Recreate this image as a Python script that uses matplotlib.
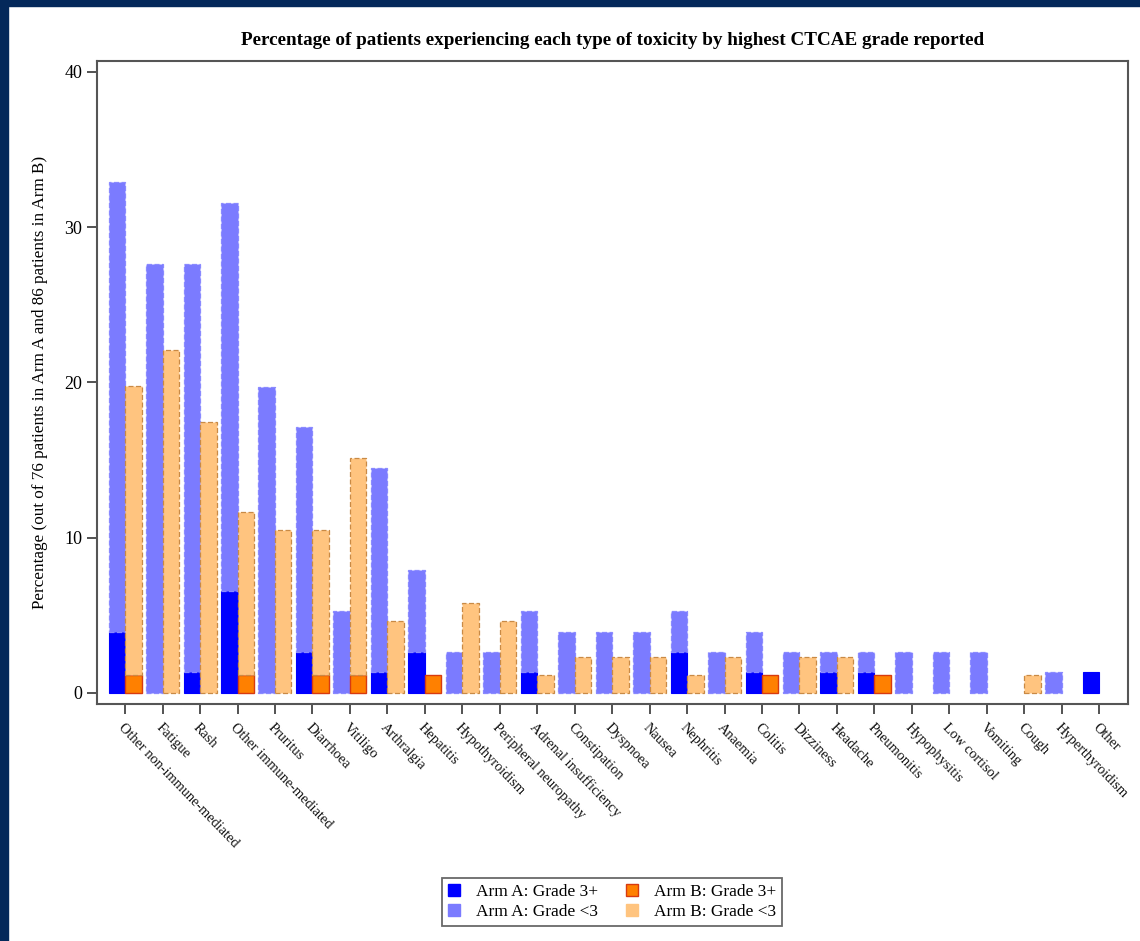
import numpy as np
import matplotlib
matplotlib.use("Agg")
import matplotlib.pyplot as plt
from matplotlib.patches import Patch, Rectangle

plt.rcParams['font.family'] = ['Liberation Serif', 'DejaVu Serif']

toxicity = ["Other non-immune-mediated", "Fatigue", "Rash", "Other immune-mediated",
            "Pruritus", "Diarrhoea", "Vitiligo", "Arthralgia", "Hepatitis",
            "Hypothyroidism", "Peripheral neuropathy", "Adrenal insufficiency",
            "Constipation", "Dyspnoea", "Nausea", "Nephritis", "Anaemia", "Colitis",
            "Dizziness", "Headache", "Pneumonitis", "Hypophysitis", "Low cortisol",
            "Vomiting", "Cough", "Hyperthyroidism", "Other"]

# percentage of patients, any grade (bar top) and grade 3+ (bottom segment)
armA_any = [32.89, 27.63, 27.63, 31.58, 19.74, 17.11, 5.26, 14.47, 7.89, 2.63, 2.63,
            5.26, 3.95, 3.95, 3.95, 5.26, 2.63, 3.95, 2.63, 2.63, 2.63, 2.63, 2.63,
            2.63, 0.0, 1.32, 1.32]
armA_g3 = [3.95, 0.0, 1.32, 6.58, 0.0, 2.63, 0.0, 1.32, 2.63, 0.0, 0.0, 1.32, 0.0,
           0.0, 0.0, 2.63, 0.0, 1.32, 0.0, 1.32, 1.32, 0.0, 0.0, 0.0, 0.0, 0.0, 1.32]
armB_any = [19.77, 22.09, 17.44, 11.63, 10.47, 10.47, 15.12, 4.65, 1.16, 5.81, 4.65,
            1.16, 2.33, 2.33, 2.33, 1.16, 2.33, 1.16, 2.33, 2.33, 1.16, 0.0, 0.0, 0.0,
            1.16, 0.0, 0.0]
armB_g3 = [1.16, 0.0, 0.0, 1.16, 0.0, 1.16, 1.16, 0.0, 1.16, 0.0, 0.0, 0.0, 0.0, 0.0,
           0.0, 0.0, 0.0, 1.16, 0.0, 0.0, 1.16, 0.0, 0.0, 0.0, 0.0, 0.0, 0.0]

a_any = np.array(armA_any); a3 = np.array(armA_g3)
b_any = np.array(armB_any); b3 = np.array(armB_g3)
x = np.arange(len(toxicity))
w = 0.44

c_a3, c_a = "#0000ff", "#7b7bff"
c_b3, c_b = "#ff8000", "#ffc47f"


def seg(ax, xpos, bottom, height, **kw):
    # skip empty segments so no flat outline is left on the axis
    keep = height > 0
    ax.bar(xpos[keep], height[keep], w, bottom=bottom[keep], **kw)


fig = plt.figure(figsize=(11.4, 9.41), dpi=100)
ax = fig.add_axes([0.0851, 0.2519, 0.9044, 0.6833])

zero = np.zeros(len(x))
seg(ax, x - w/2, zero, a3, color=c_a3, edgecolor=c_a3, linewidth=0.8)
seg(ax, x - w/2, a3, a_any - a3, color=c_a, edgecolor="#8a8aff",
    linewidth=0.9, linestyle=(0, (4, 2)))
seg(ax, x + w/2, zero, b3, color=c_b3, edgecolor="#d83a10", linewidth=1.0)
seg(ax, x + w/2, b3, b_any - b3, color=c_b, edgecolor="#c98a45",
    linewidth=0.9, linestyle=(0, (4, 2)))

ax.set_xlim(-0.75, 26.77)
ax.set_ylim(-0.71, 40.71)
ax.set_yticks([0, 10, 20, 30, 40])
ax.set_xticks(x)
ax.set_xticklabels(toxicity, rotation=-46, ha='left', va='top',
                   rotation_mode='anchor', fontsize=10.4, color="#111111")
ax.tick_params(axis='y', labelsize=13, length=7, width=1.3, color="#444444")
ax.tick_params(axis='x', length=7, width=1.3, color="#444444", pad=5)
for s in ax.spines.values():
    s.set_color("#555555")
    s.set_linewidth(1.5)

ax.set_ylabel("Percentage (out of 76 patients in Arm A and 86 patients in Arm B)",
              fontsize=12.3, labelpad=12)
fig.text(0.537, 0.957, "Percentage of patients experiencing each type of toxicity "
         "by highest CTCAE grade reported", ha='center', va='center',
         fontsize=13.8, fontweight='bold')

handles = [Patch(facecolor=c_a3, edgecolor=c_a3),
           Patch(facecolor=c_a, edgecolor=c_a),
           Patch(facecolor=c_b3, edgecolor="#d83a10"),
           Patch(facecolor=c_b, edgecolor=c_b)]
labels = ["Arm A: Grade 3+", "Arm A: Grade <3", "Arm B: Grade 3+", "Arm B: Grade <3"]
leg = fig.legend(handles, labels, ncol=2, loc='center', bbox_to_anchor=(0.537, 0.0415),
                 fontsize=12.5, frameon=True, fancybox=False, handlelength=0.7,
                 handleheight=0.7, handletextpad=0.9, columnspacing=1.6,
                 labelspacing=0.25, borderpad=0.35)
leg.get_frame().set_edgecolor("#444444")
leg.get_frame().set_linewidth(1.3)

# dark frame along the top and left edges
fig.patches.append(Rectangle((0, 0.9936), 1, 0.0064, transform=fig.transFigure,
                             color="#04285a", zorder=10))
fig.patches.append(Rectangle((0, 0), 0.0072, 1, transform=fig.transFigure,
                             color="#04285a", zorder=10))

fig.savefig("out.png", dpi=100)
